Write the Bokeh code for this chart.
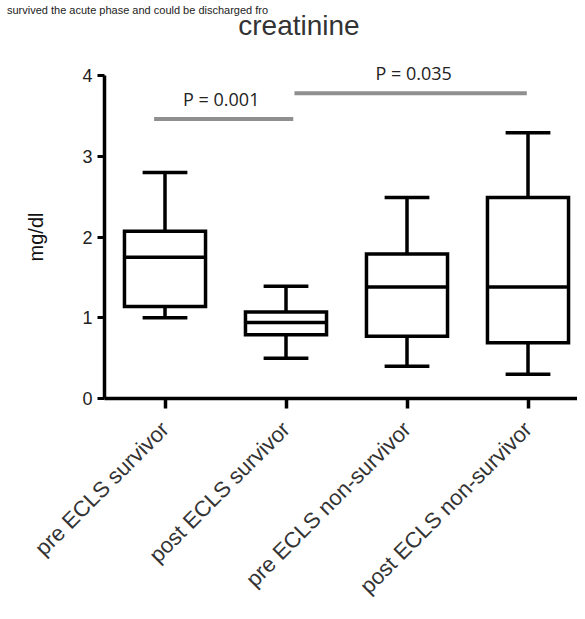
import math
from bokeh.plotting import figure
from bokeh.models import FixedTicker, Label
from bokeh.embed import file_html
from bokeh.resources import INLINE

# ---- data ----
categories = ["pre ECLS survivor", "post ECLS survivor",
              "pre ECLS non-survivor", "post ECLS non-survivor"]
positions = [1, 2, 3, 4]
whisker_low = [1.0, 0.5, 0.4, 0.3]
q1 = [1.14, 0.79, 0.77, 0.69]
median = [1.75, 0.94, 1.38, 1.38]
q3 = [2.07, 1.07, 1.79, 2.49]
whisker_high = [2.8, 1.39, 2.49, 3.29]
y_ticks = [0, 1, 2, 3, 4]

comparisons = [  # (label, x_start, x_end, y_bar)
    ("P = 0.001", 0.91, 2.06, 3.46),
    ("P = 0.035", 2.07, 3.99, 3.78),
]

BOX_W = 0.67
CAP_W = 0.37
LW = 3.5
FONT = "Liberation Sans"

# layout geometry (pixels per unit: x 121, y 80.75)
W, H = 577, 611
X0_PX, Y0_PX = 104, 398
XS, YS = 121.0, 80.75
x_start = 0.5 - X0_PX / XS
x_end = 0.5 + (W - X0_PX) / XS
y_end = Y0_PX / YS
y_start = -(H - Y0_PX) / YS

p = figure(width=W, height=H, x_range=(x_start, x_end), y_range=(y_start, y_end),
           output_backend="svg", toolbar_location=None, min_border=0)
p.outline_line_color = None
p.grid.visible = False
p.background_fill_color = "white"
p.border_fill_color = "white"

# whiskers
p.segment(x0=positions, y0=q3, x1=positions, y1=whisker_high, line_color="black", line_width=LW)
p.segment(x0=positions, y0=q1, x1=positions, y1=whisker_low, line_color="black", line_width=LW)
# caps
p.segment(x0=[x - CAP_W / 2 for x in positions], y0=whisker_high,
          x1=[x + CAP_W / 2 for x in positions], y1=whisker_high, line_color="black", line_width=LW)
p.segment(x0=[x - CAP_W / 2 for x in positions], y0=whisker_low,
          x1=[x + CAP_W / 2 for x in positions], y1=whisker_low, line_color="black", line_width=LW)
# boxes
p.vbar(x=positions, width=BOX_W, bottom=q1, top=q3, fill_color="white",
       line_color="black", line_width=LW, line_join="miter")
# medians
p.segment(x0=[x - BOX_W / 2 for x in positions], y0=median,
          x1=[x + BOX_W / 2 for x in positions], y1=median, line_color="black", line_width=LW)

# significance bars
for label, xa, xb, yb in comparisons:
    p.segment(x0=[xa], y0=[yb], x1=[xb], y1=[yb], line_color="#8f8f8f", line_width=4)
    p.add_layout(Label(x=(xa + xb) / 2 + (-0.02 if label.endswith("1") else 0.025),
                       y=yb + 0.25, text=label, text_align="center",
                       text_baseline="middle", text_font="Open Sans",
                       text_font_size="18px", text_color="#222222"))

# title & paper text fragment above it
p.add_layout(Label(x=2.107, y=4.62, text="creatinine", text_align="center",
                   text_baseline="alphabetic", text_font=FONT,
                   text_font_size="28px", text_color="#333333"))
p.add_layout(Label(x=(7 - 165) / XS + 1, y=(Y0_PX - 9) / YS,
                   text="survived the acute phase and could be discharged fro",
                   text_align="left", text_baseline="alphabetic", text_font=FONT,
                   text_font_size="11px", text_color="#222222"))

# axes placed at fixed data locations
xa = p.xaxis[0]
xa.fixed_location = 0
xa.bounds = (0.5, x_end)
xa.ticker = FixedTicker(ticks=positions)
xa.major_label_overrides = {x: c for x, c in zip(positions, categories)}
xa.major_label_orientation = math.pi / 4
xa.major_label_text_font = FONT
xa.major_label_text_font_size = "22px"
xa.major_label_text_color = "#333333"
xa.major_label_standoff = 17
xa.major_tick_in = 0
xa.major_tick_out = 10
xa.minor_tick_line_color = None
xa.major_tick_line_width = LW
xa.axis_line_width = LW
xa.axis_line_color = "black"
xa.major_tick_line_color = "black"

ya = p.yaxis[0]
ya.fixed_location = 0.5
ya.bounds = (0, 4)
ya.ticker = FixedTicker(ticks=y_ticks)
ya.major_label_text_font = FONT
ya.major_label_text_font_size = "18px"
ya.major_label_text_color = "#222222"
ya.major_label_standoff = 5
ya.major_tick_in = 0
ya.major_tick_out = 7
ya.minor_tick_line_color = None
ya.major_tick_line_width = 3
ya.axis_line_width = LW
ya.axis_line_color = "black"
ya.major_tick_line_color = "black"
ya.axis_label = "mg/dl"
ya.axis_label_text_font = FONT
ya.axis_label_text_font_style = "normal"
ya.axis_label_text_font_size = "20px"
ya.axis_label_text_color = "#111111"
ya.axis_label_standoff = 32

open("out.html", "w").write(file_html(p, INLINE))
